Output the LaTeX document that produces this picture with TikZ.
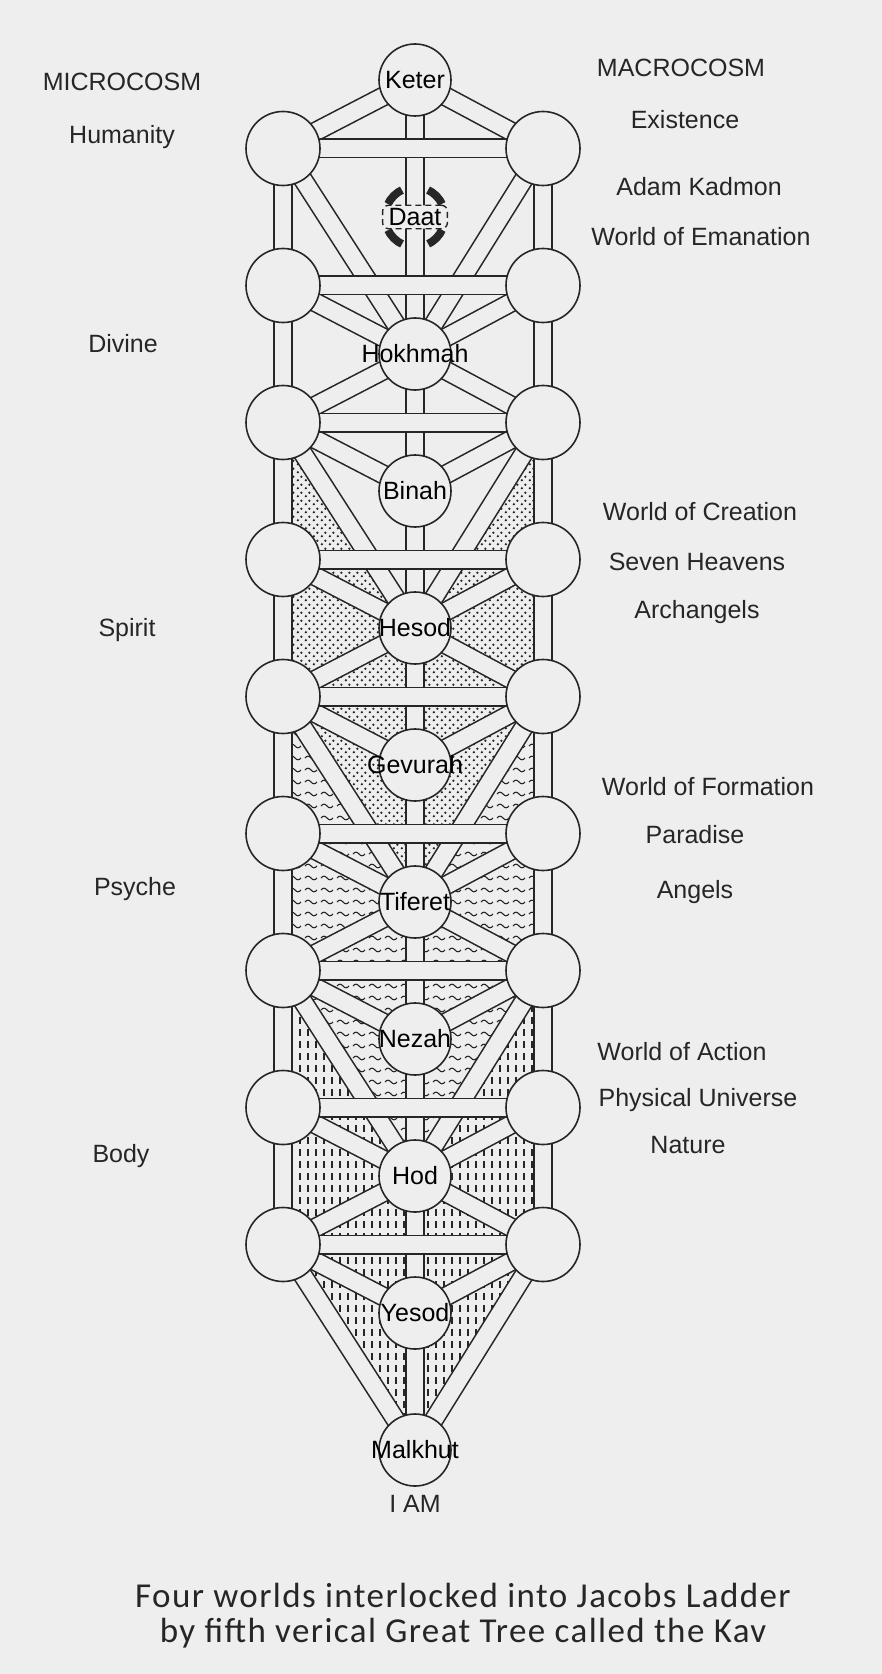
\documentclass[tikz,border=0pt]{standalone}
\usepackage{fontspec}
\setmainfont{Liberation Sans}
\newfontfamily\captionfont[LetterSpace=4]{Carlito}
\usepackage{xcolor}
\usepackage{tikz}
\usetikzlibrary{positioning,patterns}

\definecolor{paper}{RGB}{238,238,238}
\definecolor{ink}{RGB}{38,38,38}

\pgfdeclarepatternformonly{ladderdots}{\pgfpointorigin}{\pgfpoint{4pt}{4pt}}{\pgfpoint{4pt}{4pt}}{%
  \pgfpathcircle{\pgfpoint{1pt}{1pt}}{0.7pt}%
  \pgfpathcircle{\pgfpoint{3pt}{3pt}}{0.7pt}%
  \pgfusepath{fill}%
}
\pgfdeclarepatternformonly{ladderwaves}{\pgfpoint{-1pt}{-1pt}}{\pgfpoint{9pt}{7pt}}{\pgfpoint{8pt}{6pt}}{%
  \pgfsetlinewidth{0.55pt}%
  \pgfpathmoveto{\pgfpoint{0.5pt}{2pt}}%
  \pgfpathcurveto{\pgfpoint{1.5pt}{3.2pt}}{\pgfpoint{2.5pt}{3.2pt}}{\pgfpoint{3.5pt}{2pt}}%
  \pgfpathcurveto{\pgfpoint{4.5pt}{0.8pt}}{\pgfpoint{5.5pt}{0.8pt}}{\pgfpoint{6.5pt}{2pt}}%
  \pgfusepath{stroke}%
}
\pgfdeclarepatternformonly{ladderdashes}{\pgfpoint{-1pt}{-1pt}}{\pgfpoint{5pt}{7pt}}{\pgfpoint{4pt}{6pt}}{%
  \pgfsetlinewidth{0.55pt}%
  \pgfpathmoveto{\pgfpoint{2pt}{1pt}}%
  \pgfpathlineto{\pgfpoint{2pt}{4.5pt}}%
  \pgfusepath{stroke}%
}

% side sefira -> centre sefira
\newcommand{\diagonals}{1/0,1/2,2/2,3/2,3/3,3/4,4/4,5/4,5/5,5/6,6/6,7/6,7/7,7/8,8/8,9/8,9/9,9/10}

\begin{document}
\begin{tikzpicture}[
    x=0.5pt, y=-0.5pt,
    font=\fontsize{12.5}{15}\selectfont,
    sefira/.style={
        circle,
        draw=ink,
        line width=0.8pt,
        fill=paper,
        minimum size=36pt,
        inner sep=0pt,
        label distance=0pt
    },
    sidesefira/.style={sefira, minimum size=37pt},
    bandedge/.style={draw=ink, line width=10pt},
    bandfill/.style={draw=paper, line width=8.4pt},
    sidelabel/.style={text=ink, inner sep=1pt},
    daatbox/.style={
        draw=ink,
        densely dashed,
        rounded corners=3pt,
        fill=paper,
        inner xsep=3pt,
        inner ysep=1.5pt,
        line width=0.7pt
    },
    daatring/.style={draw=ink, line width=4pt, dash pattern=on 10pt off 13.56pt, dash phase=16.78pt},
    captiontext/.style={font=\captionfont\fontsize{17.5}{17.6}\selectfont, align=center, text=ink}
]
\fill[paper] (0,0) rectangle (882,1674);
\useasboundingbox (0,0) rectangle (882,1674);

\foreach \i in {0,...,10}
    \coordinate (C\i) at (415,{80+137*\i});
\foreach \i in {1,...,9} {
    \coordinate (L\i) at (283,{11.5+137*\i});
    \coordinate (R\i) at (543,{11.5+137*\i});
}

% creation, formation, action
\fill[pattern=ladderdots, pattern color=ink] (L3) -- (C4) -- (R3) -- (R4) -- (R5) -- (C6) -- (L5) -- (L4) -- cycle;
\fill[pattern=ladderwaves, pattern color=ink] (L5) -- (C6) -- (R5) -- (R6) -- (R7) -- (C8) -- (L7) -- (L6) -- cycle;
\fill[pattern=ladderdashes, pattern color=ink] (L7) -- (C8) -- (R7) -- (R8) -- (R9) -- (C10) -- (L9) -- (L8) -- cycle;

% the Kav
\foreach \i in {0,...,9} {
    \pgfmathtruncatemacro{\j}{\i+1}
    \draw[bandedge] (C\i) -- (C\j);
}
\foreach \i in {0,...,9} {
    \pgfmathtruncatemacro{\j}{\i+1}
    \draw[bandfill] (C\i) -- (C\j);
}

\foreach \s/\c in \diagonals {
    \draw[bandedge] (L\s) -- (C\c);
    \draw[bandedge] (R\s) -- (C\c);
}
\foreach \s/\c in \diagonals {
    \draw[bandfill] (L\s) -- (C\c);
    \draw[bandfill] (R\s) -- (C\c);
}

% side pillars
\foreach \i in {1,...,8} {
    \pgfmathtruncatemacro{\j}{\i+1}
    \draw[bandedge] (L\i) -- (L\j);
    \draw[bandedge] (R\i) -- (R\j);
}
\foreach \i in {1,...,8} {
    \pgfmathtruncatemacro{\j}{\i+1}
    \draw[bandfill] (L\i) -- (L\j);
    \draw[bandfill] (R\i) -- (R\j);
}

% rungs
\foreach \i in {1,...,9}
    \draw[bandedge] (L\i) -- (R\i);
\foreach \i in {1,...,9}
    \draw[bandfill] (L\i) -- (R\i);

\node[sefira, label=center:Keter] (keter) at (C0) {};
\draw[daatring] (C1) circle[radius=15pt];
\node[daatbox] (daat) at (C1) {Daat};
\node[sefira, label=center:Hokhmah] (hokhmah) at (C2) {};
\node[sefira, label=center:Binah] (binah) at (C3) {};
\node[sefira, label=center:Hesod] (hesod) at (C4) {};
\node[sefira, label=center:Gevurah] (gevurah) at (C5) {};
\node[sefira, label=center:Tiferet] (tiferet) at (C6) {};
\node[sefira, label=center:Nezah] (nezah) at (C7) {};
\node[sefira, label=center:Hod] (hod) at (C8) {};
\node[sefira, label=center:Yesod] (yesod) at (C9) {};
\node[sefira, label=center:Malkhut] (malkhut) at (C10) {};
\foreach \i in {1,...,9} {
    \node[sidesefira] (left\i) at (L\i) {};
    \node[sidesefira] (right\i) at (R\i) {};
}
\node[sidelabel, below=3pt of malkhut] (iam) {I AM};

\node[sidelabel] (microcosm) at (122,82) {MICROCOSM};
\node[sidelabel] (humanity) at (122,137) {Humanity};
\node[sidelabel] (divine) at (123,344) {Divine};
\node[sidelabel] (spirit) at (127,630) {Spirit};
\node[sidelabel] (psyche) at (135,889) {Psyche};
\node[sidelabel] (body) at (121,1156) {Body};

\node[sidelabel] (macrocosm) at (681,68) {MACROCOSM};
\node[sidelabel] (existence) at (685,120) {Existence};
\node[sidelabel] (kadmon) at (699,187) {Adam Kadmon};
\node[sidelabel] (emanation) at (701,237) {World of Emanation};
\node[sidelabel] (creation) at (700,512) {World of Creation};
\node[sidelabel] (heavens) at (697,562) {Seven Heavens};
\node[sidelabel] (archangels) at (697,612) {Archangels};
\node[sidelabel] (formation) at (708,787) {World of Formation};
\node[sidelabel] (paradise) at (695,835) {Paradise};
\node[sidelabel] (angels) at (695,892) {Angels};
\node[sidelabel] (action) at (682,1052) {World of Action};
\node[sidelabel] (universe) at (698,1100) {Physical Universe};
\node[sidelabel] (nature) at (688,1145) {Nature};

\node[captiontext] (caption) at (463,1616) {Four worlds interlocked into Jacobs Ladder\\by fifth verical Great Tree called the Kav};
\end{tikzpicture}
\end{document}
